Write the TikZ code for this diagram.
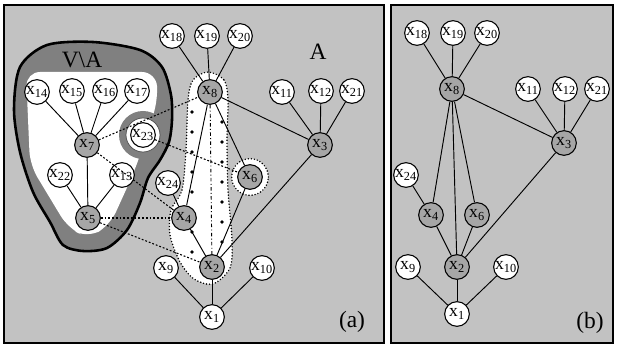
\documentclass[tikz,border=0pt]{standalone}
\usepackage{fontspec}
\setmainfont{Liberation Serif}
\usetikzlibrary{backgrounds}
\tikzset{
  vnode/.style = {draw, circle, fill=white, line width=0.9pt,
                  minimum size=0.74cm, inner sep=0pt,
                  font=\fontsize{15}{15}\selectfont},
  gnode/.style = {vnode, fill=black!35},
  edge/.style  = {line width=0.8pt},
  sep/.style   = {line width=0.9pt, dash pattern=on 1.6pt off 1.6pt},
  rim/.style   = {line width=1.4pt, line cap=round, dash pattern=on 0pt off 2.6pt},
  panel/.style = {draw, line width=2pt},
  lbl/.style   = {font=\fontsize{20}{20}\selectfont}
}
\newcommand{\xv}[1]{x\textsubscript{#1}}

\begin{document}
\begin{tikzpicture}[x=0.03cm, y=-0.03cm]
    \useasboundingbox (0,0) rectangle (617,347);

    % panel (a)
    \node[vnode] (a18) at (172,36)  {\xv{18}};
    \node[vnode] (a19) at (207,36)  {\xv{19}};
    \node[vnode] (a20) at (240,36)  {\xv{20}};
    \node[gnode] (a8)  at (210,92)  {\xv{8}};
    \node[vnode] (a11) at (282,92)  {\xv{11}};
    \node[vnode] (a12) at (321,91)  {\xv{12}};
    \node[vnode] (a21) at (352,91)  {\xv{21}};
    \node[gnode] (a3)  at (320,145) {\xv{3}};
    \node[vnode] (a14) at (37,92)   {\xv{14}};
    \node[vnode] (a15) at (72,91)   {\xv{15}};
    \node[vnode] (a16) at (105,91)  {\xv{16}};
    \node[vnode] (a17) at (137,91)  {\xv{17}};
    \node[gnode] (a7)  at (87,145)  {\xv{7}};
    \node[vnode] (a23) at (143,135) {\xv{23}};
    \node[vnode] (a22) at (60,175)  {\xv{22}};
    \node[vnode] (a13) at (122,175) {\xv{13}};
    \node[gnode] (a5)  at (88,218)  {\xv{5}};
    \node[vnode] (a24) at (168,183) {\xv{24}};
    \node[gnode] (a4)  at (184,218) {\xv{4}};
    \node[gnode] (a6)  at (250,177) {\xv{6}};
    \node[gnode] (a2)  at (212,267) {\xv{2}};
    \node[vnode] (a9)  at (166,268) {\xv{9}};
    \node[vnode] (a10) at (262,268) {\xv{10}};
    \node[vnode] (a1)  at (212,317) {\xv{1}};

    \node[lbl] (lA)  at (318,52)  {A};
    \node[lbl] (lVA) at (82,60)   {V\textbackslash A};
    \node[lbl] (la)  at (352,322) {(a)};

    \foreach \u/\v in {18/8,19/8,20/8,8/3,11/3,12/3,21/3,3/2,8/4,8/6,6/2,24/4,
                       4/2,2/1,9/1,10/1,14/7,15/7,16/7,17/7,7/5,22/5,13/5}
      \draw[edge] (a\u) -- (a\v);
    \draw[edge, dash dot] (a8) -- (a2);
    \foreach \u/\v in {7/8,7/4,5/4,5/2,23/6}
      \draw[sep] (a\u) -- (a\v);

    % panel (b)
    \node[vnode] (b18) at (417,33)  {\xv{18}};
    \node[vnode] (b19) at (453,33)  {\xv{19}};
    \node[vnode] (b20) at (487,33)  {\xv{20}};
    \node[gnode] (b8)  at (452,89)  {\xv{8}};
    \node[vnode] (b11) at (528,89)  {\xv{11}};
    \node[vnode] (b12) at (565,89)  {\xv{12}};
    \node[vnode] (b21) at (597,89)  {\xv{21}};
    \node[gnode] (b3)  at (564,143) {\xv{3}};
    \node[vnode] (b24) at (406,175) {\xv{24}};
    \node[gnode] (b4)  at (431,215) {\xv{4}};
    \node[gnode] (b6)  at (477,215) {\xv{6}};
    \node[vnode] (b9)  at (408,267) {\xv{9}};
    \node[gnode] (b2)  at (457,267) {\xv{2}};
    \node[vnode] (b10) at (506,267) {\xv{10}};
    \node[vnode] (b1)  at (457,314) {\xv{1}};

    \node[lbl] (lb) at (590,323) {(b)};

    \foreach \u/\v in {18/8,19/8,20/8,8/3,11/3,12/3,21/3,3/2,8/4,8/2,8/6,
                       24/4,4/2,6/2,9/1,2/1,10/1}
      \draw[edge] (b\u) -- (b\v);

    \begin{scope}[on background layer]
      \fill[black!24] (4,5) rectangle (384,343);
      \fill[black!24] (391,5) rectangle (613,343);
      % V\A
      \filldraw[fill=black!50, line width=2.2pt] plot[smooth cycle] coordinates
        {(20,67) (47,45) (93,42) (140,50) (162,67) (171,95) (172,120) (169,142)
         (160,160) (148,178) (140,203) (127,230) (107,248) (83,251) (63,245)
         (50,222) (33,192) (20,152) (14,110)};
      \fill[white, rounded corners=12pt] (26,72) -- (156,72) -- (158,100)
        -- (135,170) -- (110,225) -- (88,238) -- (68,228) -- (30,165) -- cycle;
      \fill[black!50] (a23) circle (0.72cm);
      \filldraw[fill=white, draw=black!70, line width=0.6pt] (a23) circle (0.51cm);
      % dotted region
      \filldraw[fill=white, rim] plot[smooth cycle] coordinates
        {(208,72) (224,80) (228,100) (227,140) (228,190) (232,240) (230,268)
         (213,284) (194,279) (180,262) (170,235) (171,210) (182,190) (186,150)
         (188,100) (193,80)};
      \foreach \y in {112,132,...,252}{
        \fill (192,\y) circle (1.6pt);
        \fill (222,\y+10) circle (1.6pt);
      }
      \filldraw[fill=white, rim] (a6) circle (0.55cm);
    \end{scope}

    \draw[panel] (4,5) rectangle (384,343);
    \draw[panel] (391,5) rectangle (613,343);
  \end{tikzpicture}
\end{document}
